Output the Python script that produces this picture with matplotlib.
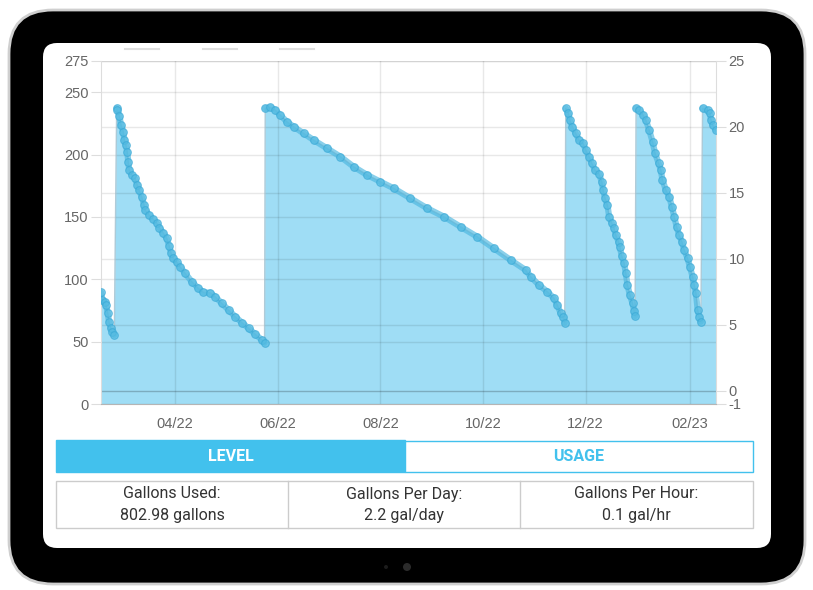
import numpy as np
import pandas as pd
import matplotlib
matplotlib.use('Agg')
import matplotlib.pyplot as plt
import matplotlib.dates as mdates
from matplotlib.patches import FancyBboxPatch, Rectangle, Circle
from matplotlib.transforms import blended_transform_factory

# tank readings: days since 2022-02-16 and level in gallons
days = [0.0, 0.8, 2.4, 3.0, 4.0, 4.8, 5.8, 6.7, 7.9,
        9.3, 9.7, 10.9, 11.9, 13.3, 13.9, 14.7, 15.7, 16.2, 16.8, 18.3, 20.2, 21.6, 22.6,
        24.2, 25.6, 26.2, 28.6, 31.1, 33.2, 34.7, 37.1, 39.1, 40.5, 41.7, 43.0, 45.1, 47.0,
        50.0, 54.0, 57.9, 60.9, 64.9, 67.9, 71.8, 75.8, 79.8, 83.8, 87.7, 91.7, 95.7, 97.2,
        97.6, 100.6, 103.6, 106.5, 110.5, 114.5, 120.4, 126.4, 134.3, 142.3, 150.2, 158.2,
        166.1, 174.0, 183.9, 193.9, 203.8, 213.7, 223.6, 233.5, 243.5, 252.4, 255.4, 260.3,
        265.3, 269.2, 271.2, 273.2, 274.8, 275.6,
        276.2, 277.8, 278.6, 280.2, 282.1, 284.1, 286.5, 288.1, 290.1, 291.7, 293.6, 296.0,
        297.6, 298.4, 299.6, 301.0, 302.0, 303.6, 304.9, 305.9, 307.6, 308.3, 309.5, 310.9,
        311.9, 312.9, 314.3, 315.9, 316.8, 317.4,
        318.0, 319.8, 322.2, 323.8, 325.8, 327.8, 329.3, 331.4, 332.7, 333.7, 335.7, 337.7,
        339.3, 340.7, 342.1, 343.6, 345.2, 346.6, 348.6, 350.0, 351.6, 352.6, 353.6, 354.6,
        355.5, 356.5,
        357.5, 360.5, 361.9, 362.5, 363.5, 365.5]
level = [89.5, 83.4, 81.8, 79.4, 73.0, 65.7, 61.0, 58.0, 55.3,
         237, 235.7, 231, 224, 218, 211.6, 208, 201.8, 194, 187.6, 183.6, 181, 175.6, 171.6,
         166.2, 159.5, 155.5, 151.5, 148, 144.9, 141.3, 136.8, 132.8, 126.9, 120.8, 116.8, 113.6, 110,
         104.8, 98, 92.7, 89.5, 89.2, 86, 80.7, 75.4, 70, 65.2, 60.7, 55.9, 51.3, 49.1,
         237, 237.8, 235.7, 231.7, 226.3, 222.3, 217, 211.6, 205, 198.3, 190.2, 183.6,
         178.2, 172.9, 164.9, 156.9, 150.2, 142.1, 134.1, 124.8, 115.4, 107.4, 102, 95.4,
         90, 84.7, 79.4, 72.7, 69.5, 65.2,
         237, 233, 227.7, 222.3, 217, 211.6, 209, 203.6, 198.3, 193, 187.6, 184.4,
         178.2, 171.6, 164.9, 159.5, 150.2, 144.9, 140.9, 135.5, 130.1, 126.1, 118.7, 112.8,
         104.8, 95.4, 87.4, 80.7, 74.8, 70.5,
         237, 235.7, 231.7, 227.7, 219.7, 210.3, 201, 193, 187.6, 179.6, 171.6, 166.2,
         158.2, 150.2, 142.1, 135.5, 130.1, 123.5, 116.8, 110, 102, 95.4, 88.7, 75.4,
         70, 66,
         237, 235.7, 233, 227.7, 223.7, 219.7]

start_date = '2022-02-16'
left_ticks = [0, 50, 100, 150, 200, 250, 275]
right_ticks = [-1, 0, 5, 10, 15, 20, 25]
tab_labels = ['LEVEL', 'USAGE']
stat_titles = ['Gallons Used:', 'Gallons Per Day:', 'Gallons Per Hour:']
stat_values = ['802.98 gallons', '2.2 gal/day', '0.1 gal/hr']

BLUE = '#42c1ed'


def main():
    plt.rcParams['font.family'] = ['Liberation Sans', 'DejaVu Sans']
    plt.rcParams['axes.unicode_minus'] = False
    W, H = 813, 590
    fig = plt.figure(figsize=(W / 100, H / 100), dpi=100)

    # tablet frame, drawn in pixel units
    bg = fig.add_axes([0, 0, 1, 1])
    bg.set_xlim(0, W)
    bg.set_ylim(H, 0)
    bg.axis('off')
    bg.add_patch(FancyBboxPatch((9, 10), 796, 574, boxstyle='round,pad=0,rounding_size=44',
                                fc='black', ec='#cfcfcf', lw=2))
    bg.add_patch(FancyBboxPatch((43, 43), 728, 505, boxstyle='round,pad=0,rounding_size=14',
                                fc='white', ec='none'))
    bg.add_patch(Circle((407, 567), 4, fc='#2b2b2b', ec='none'))
    bg.add_patch(Circle((386, 567), 2, fc='#1c1c1c', ec='none'))

    # empty legend boxes at the top
    for x0 in [125, 203, 280]:
        bg.plot([x0, x0 + 34], [48.5, 48.5], color='#dedede', lw=1.5)

    # LEVEL / USAGE tabs
    bg.add_patch(Rectangle((56, 440), 349, 32, fc=BLUE, ec=BLUE, lw=1))
    bg.add_patch(Rectangle((405, 440.5), 348, 31.5, fc='white', ec=BLUE, lw=1))
    bg.text(230.5, 456.5, tab_labels[0], color='white', ha='center', va='center',
            fontsize=11.5, fontweight='bold', family='Roboto')
    bg.text(579, 456.5, tab_labels[1], color=BLUE, ha='center', va='center',
            fontsize=11.5, fontweight='bold', family='Roboto')

    # stats table
    bg.add_patch(Rectangle((56, 481), 697, 47, fc='none', ec='#cccccc', lw=1))
    for x in [288, 520]:
        bg.plot([x, x], [481, 528], color='#cccccc', lw=1)
    for cx, t, v in zip([172, 404, 636.5], stat_titles, stat_values):
        bg.text(cx, 494, t, ha='center', va='center', fontsize=11.5, color='#333333', family='Roboto')
        bg.text(cx, 515.5, v, ha='center', va='center', fontsize=11.5, color='#333333', family='Roboto')

    # chart
    ax = fig.add_axes([101 / W, 1 - 404 / H, 615 / W, 343 / H])
    ax2 = ax.twinx()
    ax.set_zorder(ax2.get_zorder() + 1)
    ax.patch.set_visible(False)

    dates = pd.Timestamp(start_date) + pd.to_timedelta(days, unit='D')
    lv = np.array(level)

    ax.fill_between(dates, lv, 0, color='#9fddf5', lw=0, zorder=1)

    # right-axis grid lines drawn inside the front axes
    tr = blended_transform_factory(ax.transAxes, ax2.transData)
    for t in right_ticks[1:]:
        ax.plot([0, 1], [t, t], transform=tr, color='black',
                alpha=0.22 if t == 0 else 0.09, lw=1, zorder=1.5)

    # refills split the series into segments
    breaks = np.where(np.diff(lv) > 100)[0] + 1
    for seg in np.split(np.arange(len(lv)), breaks):
        ax.plot(dates[seg], lv[seg], color='#4ab6df', lw=4.5, alpha=0.65,
                solid_capstyle='round', zorder=3)
    ax.plot(dates, lv, color='#8fb6c8', lw=1, alpha=0.7, zorder=2.5)
    ax.plot(dates, lv, 'o', ms=5.5, mfc='#56bce2', mec='#3aa9d6', mew=0.8,
            alpha=0.7, zorder=4)

    ax.set_xlim(dates[0], dates[-1])
    ax.set_ylim(0, 275)
    ax2.set_ylim(-1, 25)
    ax.set_yticks(left_ticks)
    ax2.set_yticks(right_ticks)
    ax.xaxis.set_major_locator(mdates.MonthLocator(bymonth=[2, 4, 6, 8, 10, 12]))
    ax.xaxis.set_major_formatter(mdates.DateFormatter('%m/%y'))

    ax.grid(True, color='black', alpha=0.09, lw=1)
    ax.tick_params(axis='y', length=7, color='#dddddd', labelcolor='#666666',
                   labelsize=10.5, pad=2)
    ax.tick_params(axis='x', length=0, labelcolor='#666666', labelsize=10.5, pad=9)
    ax2.tick_params(axis='y', length=7, color='#dddddd', labelcolor='#666666',
                    labelsize=10.5, pad=2)

    ax.spines['top'].set_visible(False)
    ax.spines['left'].set_color('#dddddd')
    ax.spines['right'].set_color('#dddddd')
    ax.spines['bottom'].set_color('#b5b5b5')
    for s in ax2.spines.values():
        s.set_visible(False)

    fig.savefig('out.png', dpi=100)


if __name__ == '__main__':
    main()
